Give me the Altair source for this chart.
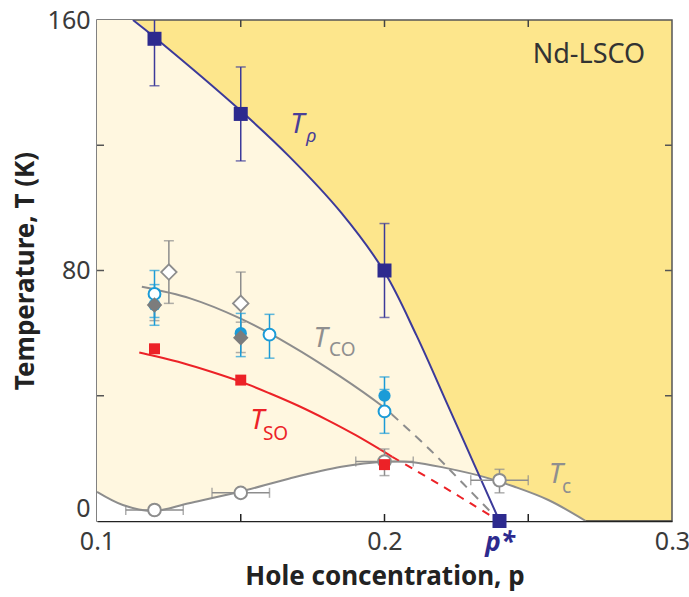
import altair as alt
import pandas as pd

FONT = "Noto Sans"
NAVY = "#2d2a8e"
RED = "#ec2227"
BLUE = "#1b9bd7"
GRAY = "#8d8d8d"
DGRAY = "#7c7c7c"
CREAM = "#fff7e0"
GOLD = "#fde68c"

# ---------------- data ----------------
# T_rho (navy squares)
rho_p = [0.12, 0.15, 0.20, 0.24]
rho_T = [154, 130, 80, 0]
rho_err_p = [0.12, 0.15, 0.20]
rho_lo = [139, 115, 65]
rho_hi = [169, 145, 95]
rho_curve_p = [0.1125, 0.12, 0.15, 0.167, 0.185, 0.20, 0.211, 0.222, 0.231, 0.24]
rho_curve_T = [160, 154.5, 131, 116.3, 98.4, 79.5, 59.5, 37, 18.5, 0]

# T_SO (red squares)
so_p = [0.12, 0.15, 0.20]
so_T = [55, 45, 18]
so_curve_p = [0.1147, 0.12, 0.13, 0.14, 0.15, 0.16, 0.17, 0.18, 0.19, 0.2027]
so_curve_T = [53.8, 52.7, 50.4, 47.6, 44.5, 40.8, 36.8, 32.3, 27.4, 20.5]
so_dash_p = [0.2027, 0.21, 0.22, 0.23, 0.24]
so_dash_T = [20.5, 16.6, 11.2, 5.6, 0]

# T_CO
co_curve_p = [0.1156, 0.1324, 0.1498, 0.1672, 0.1847, 0.1986, 0.2025]
co_curve_T = [74.8, 71.1, 64.7, 56.2, 46.1, 37.1, 34.1]
co_dash_p = [0.2025, 0.216, 0.2275, 0.24]
co_dash_T = [34.1, 22.6, 11.8, 0]

# blue filled circles
bf_p = [0.12, 0.15, 0.20]
bf_T = [69, 60, 40]
bf_lo = [62.5, 52.5, 34]
bf_hi = [75.5, 66.3, 46]
# blue open circles
bo_p = [0.12, 0.16, 0.20]
bo_T = [72.5, 59.5, 35]
bo_lo = [65, 52, 28]
bo_hi = [80, 66, 42]
# gray filled diamonds
gd_p = [0.12, 0.15]
gd_T = [69, 58.5]
gd_lo = [64, 53.8]
gd_hi = [74, 63.5]
# open diamonds
od_p = [0.125, 0.15]
od_T = [79.5, 69.5]
od_lo = [69.5, 59.5]
od_hi = [89.5, 79.5]

# T_c (open gray circles)
tc_p = [0.12, 0.15, 0.20, 0.24]
tc_T = [3.5, 9.0, 19.0, 13.0]
tc_plo = [0.11, 0.14, 0.19, 0.23]
tc_phi = [0.13, 0.16, 0.21, 0.25]
tc_verr_p = [0.20, 0.24]
tc_lo = [14.5, 9.0]
tc_hi = [23.0, 16.5]
tc_curve_p = [0.1, 0.109, 0.1195, 0.132, 0.15, 0.167, 0.185, 0.20, 0.21, 0.222, 0.2345, 0.245, 0.257, 0.27]
tc_curve_T = [9.3, 5.1, 3.2, 5.7, 9.4, 13.6, 17.3, 18.9, 18.8, 16.8, 14.1, 11.0, 6.7, 0]

# axis ticks / labels
x_tick_vals = [0.15, 0.2, 0.25]
y_tick_vals = [40, 80, 120]
x_label_vals = [0.1, 0.2, 0.24, 0.3]
y_label_vals = [0, 80, 160]

W, H = 575, 501

pstar = "datum.value > 0.23 && datum.value < 0.25"
xaxis = alt.Axis(
    values=x_label_vals, format=".1f",
    labelExpr=f"({pstar}) ? 'p*' : datum.label",
    ticks=False, grid=False, domainColor="#222", domainWidth=1.5,
    labelFont=FONT, labelFontSize={"condition": {"test": pstar, "value": 26}, "value": 25},
    labelColor={"condition": {"test": pstar, "value": NAVY}, "value": "#3a3a3a"},
    labelFontStyle={"condition": {"test": pstar, "value": "italic"}, "value": "normal"},
    labelFontWeight={"condition": {"test": pstar, "value": "bold"}, "value": "normal"},
    labelPadding=8, labelFlush=False, labelOverlap=False,
    titleFont=FONT, titleFontSize=26, titleFontWeight="bold", titleColor="#222",
    titlePadding=8,
)
yaxis = alt.Axis(
    values=y_label_vals, ticks=False, grid=False, domainColor="#888", domainWidth=1.5,
    labelFont=FONT, labelFontSize=25, labelColor="#3a3a3a", labelPadding=7,
    labelBaseline={"condition": {"test": "datum.value == 0", "value": "bottom"}, "value": "middle"},
    labelFlush=False, labelOverlap=False,
    titleFont=FONT, titleFontSize=26, titleFontWeight="bold", titleColor="#222",
    titlePadding=9,
)
xs = alt.Scale(domain=[0.1, 0.3], nice=False, zero=False)
ys = alt.Scale(domain=[0, 160], nice=False, zero=True)


def X(f="p"):
    return alt.X(f, type="quantitative", scale=xs, axis=xaxis, title="Hole concentration, p")


def Y(f="T"):
    return alt.Y(f, type="quantitative", scale=ys, axis=yaxis, title="Temperature, T (K)")


def df(**cols):
    return pd.DataFrame(cols)


layers = []
CURVE = "catmull-rom"

# background regions
cream_df = df(p=[0.1] + rho_curve_p, T=[160] + rho_curve_T)
layers.append(alt.Chart(cream_df).mark_area(color=CREAM, interpolate=CURVE, clip=True, opacity=1)
              .encode(x=X(), y=Y()))
tc_df = df(p=tc_curve_p, T=tc_curve_T)
layers.append(alt.Chart(tc_df).mark_area(color="white", interpolate=CURVE, clip=True, opacity=1)
              .encode(x=X(), y=Y()))

# curves
layers.append(alt.Chart(tc_df).mark_line(color=GRAY, strokeWidth=2, interpolate=CURVE, clip=True)
              .encode(x=X(), y=Y()))
layers.append(alt.Chart(df(p=co_curve_p, T=co_curve_T)).mark_line(color=GRAY, strokeWidth=2, interpolate=CURVE)
              .encode(x=X(), y=Y()))
layers.append(alt.Chart(df(p=co_dash_p, T=co_dash_T)).mark_line(color=GRAY, strokeWidth=2, interpolate=CURVE,
                                                                 strokeDash=[9, 7])
              .encode(x=X(), y=Y()))
layers.append(alt.Chart(df(p=so_curve_p, T=so_curve_T)).mark_line(color=RED, strokeWidth=2, interpolate=CURVE)
              .encode(x=X(), y=Y()))
layers.append(alt.Chart(df(p=so_dash_p, T=so_dash_T)).mark_line(color=RED, strokeWidth=2, interpolate=CURVE,
                                                                 strokeDash=[8, 7])
              .encode(x=X(), y=Y()))
layers.append(alt.Chart(df(p=rho_curve_p, T=rho_curve_T)).mark_line(color="#3c3a9a", strokeWidth=2,
                                                                     interpolate=CURVE, clip=True)
              .encode(x=X(), y=Y()))


def vbars(p, lo, hi, color):
    d = df(p=p, lo=lo, hi=hi)
    caps = df(p=p + p, T=lo + hi)
    r = alt.Chart(d).mark_rule(color=color, strokeWidth=1.5, clip=True).encode(
        x=X(), y=Y("lo"), y2=alt.Y2("hi"))
    c = alt.Chart(caps).mark_tick(color=color, orient="horizontal", size=10, thickness=1.5, clip=True).encode(
        x=X(), y=Y())
    return [r, c]


def hbars(T, plo, phi, color):
    d = df(T=T, plo=plo, phi=phi)
    caps = df(p=plo + phi, T=T + T)
    r = alt.Chart(d).mark_rule(color=color, strokeWidth=1.5).encode(
        x=X("plo"), x2=alt.X2("phi"), y=Y())
    c = alt.Chart(caps).mark_tick(color=color, orient="vertical", size=10, thickness=1.5).encode(
        x=X(), y=Y())
    return [r, c]


layers += vbars(gd_p, gd_lo, gd_hi, GRAY)
layers += vbars(od_p, od_lo, od_hi, GRAY)
layers += vbars(bf_p, bf_lo, bf_hi, BLUE)
layers += vbars(bo_p, bo_lo, bo_hi, BLUE)
layers += vbars(rho_err_p, rho_lo, rho_hi, "#3c3a9a")
layers += vbars(tc_verr_p, tc_lo, tc_hi, GRAY)
layers += hbars(tc_T, tc_plo, tc_phi, GRAY)

# markers
layers.append(alt.Chart(df(p=tc_p, T=tc_T)).mark_point(shape="circle", size=160, filled=True, fill="white",
                                                        stroke=GRAY, strokeWidth=2, opacity=1)
              .encode(x=X(), y=Y()))
layers.append(alt.Chart(df(p=bf_p, T=bf_T)).mark_point(shape="circle", size=150, filled=True, color=BLUE, opacity=1)
              .encode(x=X(), y=Y()))
layers.append(alt.Chart(df(p=bo_p, T=bo_T)).mark_point(shape="circle", size=140, filled=True, fill="white",
                                                        stroke=BLUE, strokeWidth=2, opacity=1)
              .encode(x=X(), y=Y()))
layers.append(alt.Chart(df(p=gd_p, T=gd_T)).mark_point(shape="diamond", size=240, filled=True, color=DGRAY, opacity=1)
              .encode(x=X(), y=Y()))
layers.append(alt.Chart(df(p=od_p, T=od_T)).mark_point(shape="diamond", size=240, filled=True, fill="white",
                                                        stroke=GRAY, strokeWidth=1.8, opacity=1)
              .encode(x=X(), y=Y()))
layers.append(alt.Chart(df(p=so_p, T=so_T)).mark_square(size=120, color=RED, opacity=1)
              .encode(x=X(), y=Y()))
layers.append(alt.Chart(df(p=rho_p, T=rho_T)).mark_square(size=196, color=NAVY, opacity=1, clip=False)
              .encode(x=X(), y=Y()))

# labels
lab_main_p = [0.1672, 0.1753, 0.1533, 0.2571]
lab_main_T = [123.9, 55.6, 29.4, 12.1]
lab_main_c = ["#4a3f98", "#8f8f8f", RED, "#8f8f8f"]
lab_sub_p = [0.1727, 0.1807, 0.1577, 0.2617]
lab_sub_T = [121.0, 52.7, 25.9, 8.9]
lab_sub_t = ["ρ", "CO", "SO", "c"]

for i in range(4):
    layers.append(alt.Chart(df(p=[lab_main_p[i]], T=[lab_main_T[i]], t=["T"]))
                  .mark_text(font=FONT, fontSize=28, fontStyle="italic", color=lab_main_c[i],
                             align="left", baseline="alphabetic")
                  .encode(x=X(), y=Y(), text="t:N"))
    layers.append(alt.Chart(df(p=[lab_sub_p[i]], T=[lab_sub_T[i]], t=[lab_sub_t[i]]))
                  .mark_text(font=FONT, fontSize=19, fontStyle="italic" if lab_sub_t[i] == "ρ" else "normal",
                             color=lab_main_c[i], align="left", baseline="alphabetic")
                  .encode(x=X(), y=Y(), text="t:N"))

layers.append(alt.Chart(df(p=[0.2711], T=[146.3], t=["Nd-LSCO"]))
              .mark_text(font=FONT, fontSize=27, color="#333", align="center", baseline="alphabetic")
              .encode(x=X(), y=Y(), text="t:N"))

# inside ticks
xt = df(p=x_tick_vals)
yt = df(T=y_tick_vals)
layers.append(alt.Chart(xt).mark_rule(color="#222", strokeWidth=1.5)
              .encode(x=X(), y=alt.value(H), y2=alt.value(H - 7)))
layers.append(alt.Chart(xt).mark_rule(color="#444", strokeWidth=1.5)
              .encode(x=X(), y=alt.value(0), y2=alt.value(7)))
layers.append(alt.Chart(yt).mark_rule(color="#555", strokeWidth=1.5)
              .encode(y=Y(), x=alt.value(0), x2=alt.value(7)))
layers.append(alt.Chart(yt).mark_rule(color="#555", strokeWidth=1.5)
              .encode(y=Y(), x=alt.value(W), x2=alt.value(W - 7)))

chart = alt.layer(*layers).properties(
    width=W, height=H,
    autosize=alt.AutoSizeParams(type="none"),
    padding={"left": 97, "top": 20, "right": 17, "bottom": 76},
    background="white",
).configure_view(fill=GOLD, stroke="#555", strokeWidth=1.5)

chart.save("out.html", embed_options={"renderer": "svg", "actions": False})
